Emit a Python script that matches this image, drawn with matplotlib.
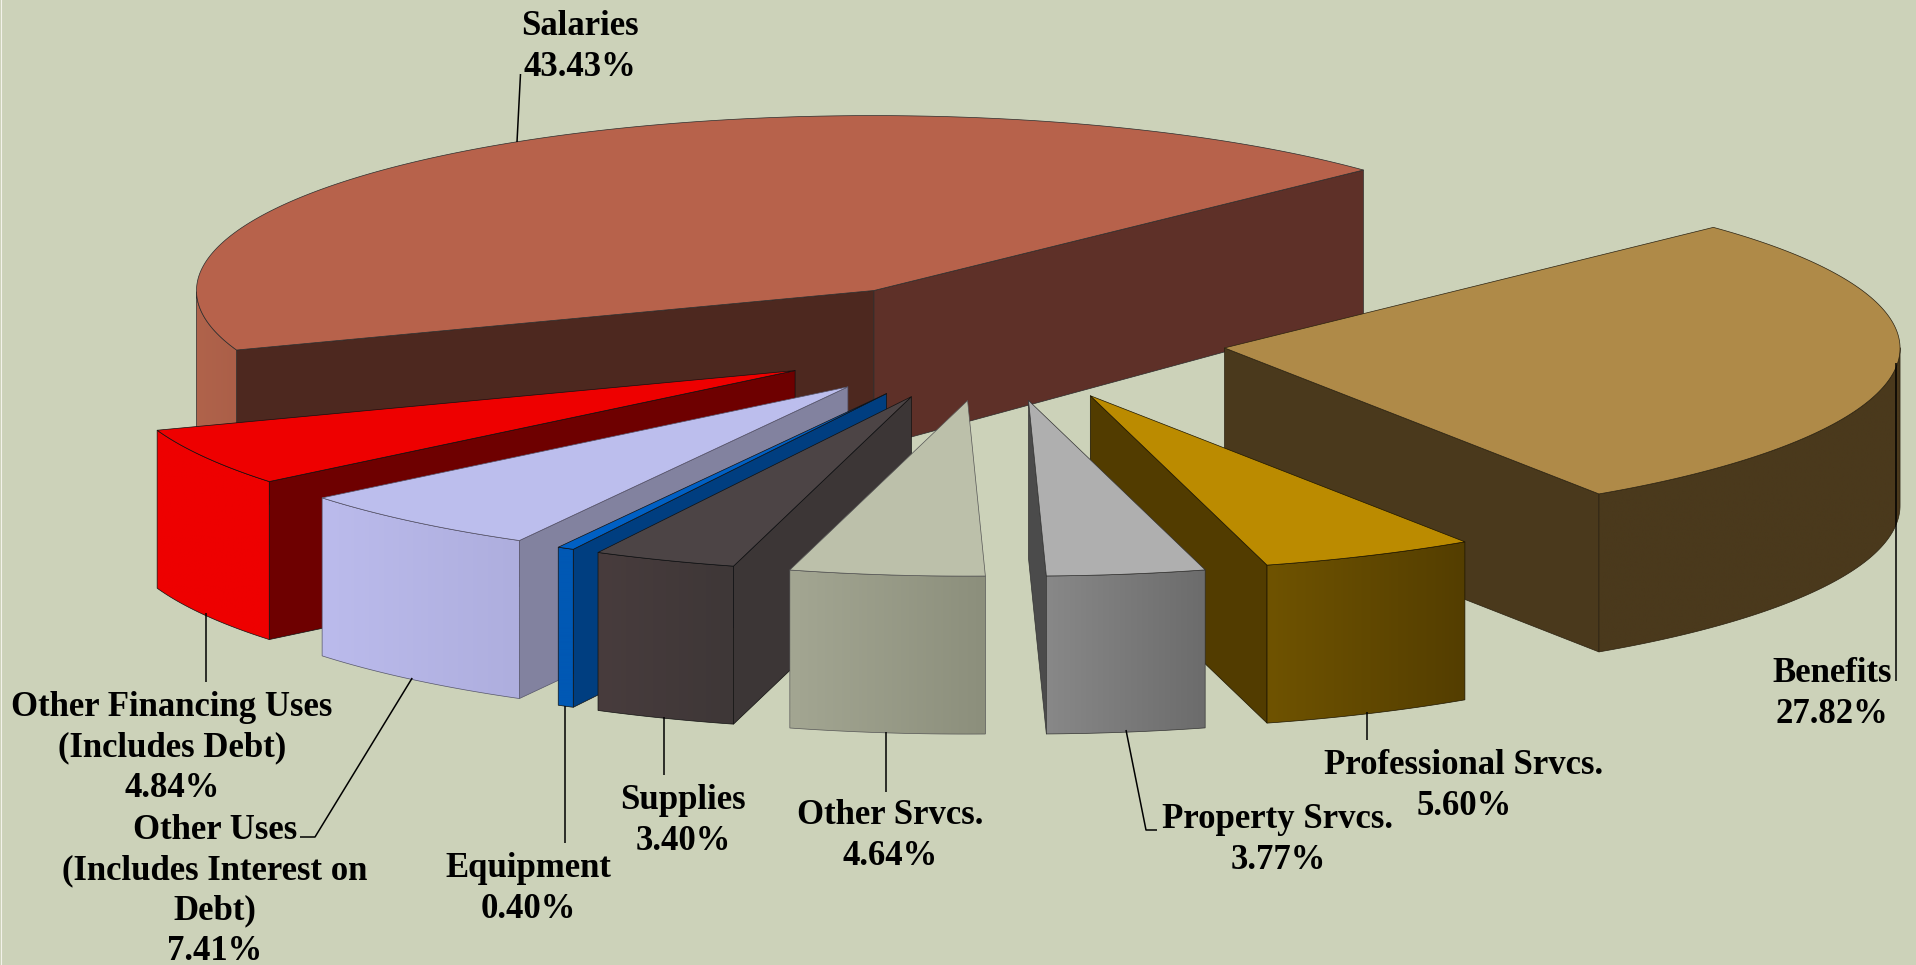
import matplotlib
matplotlib.use('Agg')
import matplotlib.pyplot as plt
from matplotlib.colors import to_rgb
from matplotlib.patches import Polygon
import numpy as np

# Pie data, clockwise from the left edge of Salaries.
names = ['Salaries', 'Benefits', 'Professional Srvcs.', 'Property Srvcs.', 'Other Srvcs.',
         'Supplies', 'Equipment', 'Other Uses\n(Includes Interest on\nDebt)',
         'Other Financing Uses\n(Includes Debt)']
# the printed percentages
shares = [43.43, 27.82, 5.60, 3.77, 4.64, 3.40, 0.40, 7.41, 4.84]
drawn = [43.41, 27.78, 5.13, 3.78, 4.64, 3.42, 0.40, 6.07, 5.37]

# How far each slice is pulled out, in radii.
explode = [0.3405, 0.3413, 0.3413, 0.3416, 0.3407, 0.3396, 0.3386, 0.3391, 0.3395]

top_colors = ['#b7624b', '#af8a48', '#bb8b00', '#afafaf', '#bcc0aa', '#4c4445', '#0060c4', '#bcbeed', '#ee0000']
start_wall = ['#4d281f', '#4a391c', '#523c00', '#4b4b4b', '#8e917d', '#3c3636', '#003e80', '#82829f', '#6e0000']
end_wall = ['#5e3028', '#4a391c', '#523c00', '#4b4b4b', '#8e917d', '#3c3636', '#003e80', '#82829f', '#6e0000']
outer_a = ['#b0634b', '#4a391c', '#6f5300', '#888888', '#a3a692', '#483c3d', '#0058b4', '#bbbbec', '#ee0000']
outer_b = ['#ab5f48', '#4a391c', '#543e00', '#6c6c6c', '#8c8f7c', '#3e3737', '#0058b4', '#aeaede', '#ee0000']
edge_colors = ['#2c2c2c', '#2a2110', '#1c1500', '#333333', '#555555', '#111111', '#111111', '#55556a', '#111111']

label_pos = [(580, 47), (1832, 694), (1464, 786), (1278, 840), (890, 836),
             (683, 821), (528, 889), (215, 891), (172, 748)]

leaders = [[(520.5, 74), (517, 142)],
           [(1896.5, 363), (1896.5, 681)],
           [(1367.3, 712), (1367.3, 740)],
           [(1126, 730), (1146, 830), (1157, 830)],
           [(886.2, 732), (886.2, 792)],
           [(663.8, 717), (663.8, 775)],
           [(565.3, 706), (565.3, 843)],
           [(412.2, 678), (315, 837), (300, 837)],
           [(205.6, 613), (205.6, 682)]]

# Oblique view of the pie plane onto the picture.
view = [608.091, 299.31, 995.089, -77.1148, 156.871, 341.239, 0.00148136, -0.000582173]
first_angle = 3.254


def project(u, v):
    a, b, c, d, e, f, g, h = view
    w = g * u + h * v + 1
    return (a * u + b * v + c) / w, (d * u + e * v + f) / w


def depth(y):
    # wall height shrinks a little towards the back
    return np.interp(y, [168, 281, 400], [144, 156.5, 158])


fig = plt.figure(figsize=(19.16, 9.65), dpi=100, facecolor='#ccd2b9')
ax = fig.add_axes([0, 0, 1, 1])
ax.set_xlim(0, 1916)
ax.set_ylim(965, 0)
ax.autoscale(False)
ax.axis('off')

z = 10


def next_z():
    global z
    z += 1
    return z


def wall(x0, y0, x1, y1, color, edge):
    ax.fill([x0, x1, x1, x0], [y0, y1, y1 + depth(y1), y0 + depth(y0)],
            facecolor=color, edgecolor=edge, linewidth=0.5, joinstyle='round', zorder=next_z())


edges = first_angle + np.cumsum([0] + drawn) / sum(drawn) * 2 * np.pi

# back slices first, the two at the right go on top of Other Srvcs.
draw_order = [0, 1, 8, 7, 6, 5, 4, 2, 3]
for i in draw_order:
    a0, a1 = edges[i], edges[i + 1]
    mid = (a0 + a1) / 2
    cu, cv = explode[i] * np.cos(mid), explode[i] * np.sin(mid)
    th = np.linspace(a0, a1, max(int((a1 - a0) * 80), 8))
    ax_x, ax_y = project(cu, cv)
    arc_x, arc_y = project(cu + np.cos(th), cv + np.sin(th))

    # flat inner walls, only those turned to the viewer
    if arc_x[0] < ax_x:
        wall(ax_x, ax_y, arc_x[0], arc_y[0], start_wall[i], edge_colors[i])
    if arc_x[-1] > ax_x:
        wall(arc_x[-1], arc_y[-1], ax_x, ax_y, end_wall[i], edge_colors[i])

    # curved outer wall, a left to right shade clipped to the wall outline
    idx = np.nonzero(np.diff(arc_x) < 0)[0]
    if len(idx):
        xs = np.r_[arc_x[idx], arc_x[idx[-1] + 1]]
        ys = np.r_[arc_y[idx], arc_y[idx[-1] + 1]]
        low = ys + depth(ys)
        shape = Polygon(np.c_[np.r_[xs, xs[::-1]], np.r_[ys, low[::-1]]], closed=True,
                        facecolor='none', edgecolor=edge_colors[i], linewidth=0.5,
                        transform=ax.transData)
        shade = np.linspace(to_rgb(outer_a[i]), to_rgb(outer_b[i]), 64).reshape(1, 64, 3)
        im = ax.imshow(shade, extent=(xs.min(), xs.max(), low.max(), ys.min()), aspect='auto',
                       interpolation='bilinear', zorder=next_z())
        ax.add_patch(shape)
        im.set_clip_path(shape)
        shape.set_zorder(next_z())

    # top face
    ax.fill(np.r_[ax_x, arc_x], np.r_[ax_y, arc_y], facecolor=top_colors[i],
            edgecolor=edge_colors[i], linewidth=0.5, joinstyle='round', zorder=next_z())

# Leader lines and labels.
for pts in leaders:
    xs, ys = zip(*pts)
    ax.plot(xs, ys, color='black', lw=1.1, solid_capstyle='butt', zorder=next_z())

for name, share, pos in zip(names, shares, label_pos):
    ax.text(pos[0], pos[1], f'{name}\n{share:.2f}%', ha='center', va='center',
            family='Liberation Serif', weight='bold', fontsize=25, color='black',
            linespacing=1.29, zorder=next_z())

ax.plot([0.5, 0.5], [0, 965], color='#f2f2ea', lw=0.8, zorder=next_z())

fig.savefig('out.png', dpi=100, facecolor=fig.get_facecolor())
